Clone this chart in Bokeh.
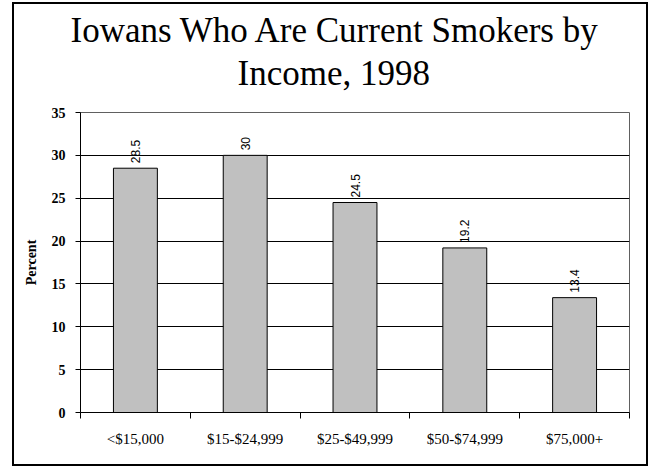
from bokeh.plotting import figure
from bokeh.models import (Range1d, LinearAxis, FixedTicker, ColumnDataSource, Title)
from bokeh.core.properties import value
from bokeh.embed import file_html
from bokeh.resources import INLINE
import math

title_lines = ["Iowans Who Are Current Smokers by", "Income, 1998"]
categories = ["<$15,000", "$15-$24,999", "$25-$49,999", "$50-$74,999", "$75,000+"]
percent = [28.5, 30.0, 24.5, 19.2, 13.4]
value_labels = ["28.5", "30", "24.5", "19.2", "13.4"]
y_ticks = [0, 5, 10, 15, 20, 25, 30, 35]
y_label = "Percent"

SERIF = "Liberation Serif"
SANS = "Liberation Sans"

n = len(categories)
centers = [i + 0.5 for i in range(n)]
bounds = list(range(n + 1))

W, H = 636, 464
p = figure(width=W, height=H, output_backend="svg", toolbar_location=None,
           x_range=Range1d(0, n), y_range=Range1d(0, 35),
           x_axis_location=None, y_axis_location=None,
           min_border_left=66, min_border_right=21, min_border_bottom=56,
           min_border_top=108)
p.styles = {"border": "2px solid black", "margin-left": "12px", "margin-top": "2px"}

t2 = Title(text=title_lines[1], text_font=SERIF, text_font_size="35px",
           text_font_style="normal", align="left", offset=157, text_color="black",
           standoff=40)
t1 = Title(text=title_lines[0], text_font=SERIF, text_font_size="35px",
           text_font_style="normal", align="left", offset=-10, text_color="black",
           standoff=-37)
p.add_layout(t2, "above")
p.add_layout(t1, "above")

p.background_fill_color = "white"
p.border_fill_color = "white"
p.outline_line_color = "#606060"
p.outline_line_width = 1

# y axis
yax = LinearAxis(ticker=FixedTicker(ticks=y_ticks), axis_label=y_label)
yax.axis_line_color = "black"
yax.major_tick_out = 5
yax.major_tick_in = 0
yax.minor_tick_line_color = None
yax.major_tick_line_color = "black"
yax.major_label_text_font = SERIF
yax.major_label_text_font_style = "bold"
yax.major_label_text_font_size = "14px"
yax.major_label_text_color = "black"
yax.major_label_standoff = 10
yax.axis_label_text_font = SERIF
yax.axis_label_text_font_style = "bold"
yax.axis_label_text_font_size = "14px"
yax.axis_label_text_color = "black"
yax.axis_label_standoff = 10
p.add_layout(yax, "left")

# boundary ticks on x
bax = LinearAxis(ticker=FixedTicker(ticks=bounds),
                 major_label_overrides={b: "" for b in bounds})
bax.axis_line_color = "black"
bax.major_tick_out = 6
bax.major_tick_in = 0
bax.minor_tick_line_color = None
bax.major_label_text_font_size = "0px"
bax.major_label_standoff = 0
p.add_layout(bax, "below")

# category labels
cax = LinearAxis(ticker=FixedTicker(ticks=centers),
                 major_label_overrides={c: cat for c, cat in zip(centers, categories)})
cax.axis_line_color = None
cax.major_tick_line_color = None
cax.minor_tick_line_color = None
cax.major_label_text_font = SERIF
cax.major_label_text_font_size = "15px"
cax.major_label_text_color = "black"
cax.major_label_standoff = 6
p.add_layout(cax, "below")

p.xgrid.visible = False
p.ygrid.ticker = FixedTicker(ticks=y_ticks)
p.ygrid.grid_line_color = "black"
p.ygrid.grid_line_width = 1

src = ColumnDataSource(dict(x=centers, val=percent, lab=value_labels))
p.vbar(x="x", top="val", width=0.4, source=src,
       fill_color="#C0C0C0", line_color="black", line_width=1)

p.text(x="x", y="val", text="lab", source=src, angle=math.pi / 2,
       text_align="left", text_baseline="middle", y_offset=-5,
       text_font=value(SANS), text_font_size="12px", text_color="black")

open("out.html", "w").write(file_html(p, INLINE))
